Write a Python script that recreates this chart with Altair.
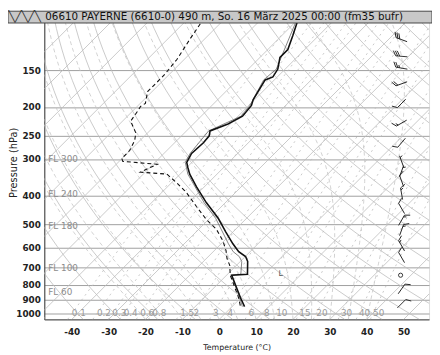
import math
import numpy as np
import pandas as pd
import altair as alt

# ---------------- values ----------------
temp_p = [100.0, 114.7, 127.7, 135.8, 148.8, 158.2, 161.9, 188.7, 197.5, 214.8, 228.4, 241.0,
          250.4, 264.2, 287.3, 307.9, 319.8, 337.5, 372.7, 421.2, 476.1, 529.9, 580.9, 617.5,
          641.6, 666.7, 736.3, 742.0, 884.8, 947.9]
temp_t = [-60.2, -57.0, -54.6, -54.6, -52.0, -51.2, -52.5, -50.4, -49.3, -48.8, -50.6, -53.6,
          -52.5, -52.2, -52.5, -51.4, -49.8, -47.4, -42.1, -35.2, -27.7, -21.9, -16.8, -13.1,
          -9.9, -8.0, -4.6, -8.6, -0.1, 3.4]

dew_p = [100.0, 118.3, 137.8, 155.8, 177.4, 194.5, 199.0, 206.8, 223.2, 231.9, 244.7, 260.1,
         280.8, 298.6, 305.5, 312.5, 332.3, 337.4, 361.4, 390.2, 434.3, 479.8, 517.9, 567.7,
         612.8, 651.5, 687.3, 742.0, 884.8, 947.9]
dew_t = [-85.8, -83.9, -82.0, -81.2, -81.2, -78.6, -79.1, -78.6, -77.8, -75.9, -73.2, -71.4,
         -70.1, -70.1, -69.0, -58.9, -61.3, -53.6, -48.5, -43.2, -36.8, -30.7, -25.3, -20.3,
         -16.8, -14.4, -11.8, -9.0, -0.6, 2.3]

wet_p = [100.0, 148.8, 161.9, 197.5, 214.8, 241.0, 287.3, 307.9, 337.5, 421.2, 476.1, 529.9,
         580.9, 617.5, 641.6, 666.7, 736.3, 742.0, 884.8, 947.9]
wet_t = [-60.5, -52.4, -52.9, -49.7, -49.2, -54.0, -52.9, -51.8, -47.9, -35.8, -28.4, -22.8,
         -18.0, -14.6, -11.6, -9.6, -6.4, -8.7, -0.3, 2.8]

barb_p = [118.3, 134.7, 147.7, 166.9, 194.5, 226.7, 264.2, 305.5, 329.8, 356.0, 393.2, 441.0,
          483.4, 521.9, 589.8, 646.6, 825.9, 926.3]
barb_dir = [290, 275, 280, 250, 225, 240, 220, 340, 20, 340, 350, 330, 30, 20, 330, 330, 35, 45]
barb_kt = [30, 30, 25, 20, 10, 15, 10, 5, 5, 10, 15, 10, 15, 15, 15, 10, 10, 10]
calm_p = [742.0]

marker_p = [736.0]
marker_t = [4.4]

pressure_ticks = [100, 150, 200, 250, 300, 400, 500, 600, 700, 800, 900, 1000]
temp_ticks = [-40, -30, -20, -10, 0, 10, 20, 30, 40, 50]
fl_names = ["FL 300", "FL 240", "FL 180", "FL 100", "FL 60"]
fl_p = [300, 395, 506, 700, 845]
mix_ratios = [0.1, 0.2, 0.3, 0.4, 0.6, 0.8, 1.5, 2, 3, 4, 6, 8, 10, 15, 20, 30, 40, 50]
isotherms = list(range(-130, 60, 10))
dry_theta_c = list(range(-50, 220, 10))
moist_start = list(range(-20, 45, 5))
title_text = "06610 PAYERNE (6610-0) 490 m, So. 16 März 2025 00:00 (fm35  bufr)"

# ---------------- diagram geometry ----------------
P_BOT, P_TOP = 1047.0, 100.0
SKEW = 34.79
X_DOM = [-47.45, 56.9]
W, H = 392, 307
FONT = "DejaVu Sans"


def es(tc):
    return 6.112 * np.exp(17.67 * tc / (tc + 243.5))


def t_from_w(w, p):
    e = w * p / (622.0 + w)
    l = np.log(e / 6.112)
    return 243.5 * l / (17.67 - l)


def moist(t0):
    Rd, Cp, Lv, eps = 287.04, 1005.7, 2.501e6, 0.622
    lnp = np.linspace(math.log(P_BOT), math.log(P_TOP), 60)

    def f(T, p):
        e = es(T - 273.15)
        rs = eps * e / (p - e)
        return (Rd * T + Lv * rs) / (Cp + Lv * Lv * rs * eps / (Rd * T * T))

    T = t0 + 273.15
    out = [T]
    for i in range(1, len(lnp)):
        h = lnp[i] - lnp[i - 1]
        p0, p1 = math.exp(lnp[i - 1]), math.exp(lnp[i])
        k1 = f(T, p0)
        k2 = f(T + h * k1, p1)
        T = T + h * (k1 + k2) / 2
        out.append(T)
    return np.exp(lnp), np.array(out) - 273.15


def frame(groups):
    rows = []
    for g, ps, ts in groups:
        for i, (p, t) in enumerate(zip(ps, ts)):
            rows.append({"g": g, "i": i, "p": float(p), "t": float(t)})
    return pd.DataFrame(rows)


iso_df = frame([(k, [P_BOT, P_TOP], [k, k]) for k in isotherms])
pp = np.geomspace(P_BOT, P_TOP, 30)
dry_df = frame([(k, pp, (k + 273.15) * (pp / 1000.0) ** 0.2857 - 273.15) for k in dry_theta_c])
moist_df = frame([(k,) + moist(k) for k in moist_start])
pm = np.geomspace(P_BOT, P_TOP, 25)
mix_df = frame([(w, pm, t_from_w(w, pm)) for w in mix_ratios])

temp_df = frame([(0, temp_p, temp_t)])
dew_df = frame([(0, dew_p, dew_t)])
wet_df = frame([(0, wet_p, wet_t)])

mixlab_df = pd.DataFrame({"p": 1000.0, "t": [float(t_from_w(w, 1000.0)) for w in mix_ratios],
                          "lab": [f"{w:g}" for w in mix_ratios]})
fl_df = pd.DataFrame({"p": fl_p, "lab": fl_names})
barb_df = pd.DataFrame({"p": barb_p, "dir": barb_dir, "kt": barb_kt})
calm_df = pd.DataFrame({"p": calm_p})
marker_df = pd.DataFrame({"p": marker_p, "t": marker_t, "lab": ["L"]})


def barb_path(kt):
    parts = ["M0,0.5L0,-0.5"]
    full, half = kt // 10, (kt % 10) >= 5
    for j in range(full):
        y = -0.5 + j * 0.17
        parts.append(f"M0,{y:.2f}L0.42,{y - 0.24:.2f}")
    if half:
        y = -0.5 + max(full, 1) * 0.17
        parts.append(f"M0,{y:.2f}L0.21,{y - 0.12:.2f}")
    return "".join(parts)


speed_classes = sorted(set(barb_kt))
barb_shapes = [barb_path(k) for k in speed_classes]

# ---------------- scales / axes ----------------
xs = alt.Scale(domain=X_DOM, nice=False, zero=False)
ys = alt.Scale(type="log", domain=[P_BOT, P_TOP], nice=False)
x_axis = alt.Axis(values=temp_ticks, labelExpr="'' + datum.value", title="Temperature (°C)",
                  ticks=False, grid=False, labelFontWeight="bold", labelFontSize=9,
                  labelColor="#222", labelPadding=8, titleFontSize=8, titleFontWeight="normal",
                  titleColor="#222", titlePadding=8, domainColor="#333", labelFont=FONT,
                  titleFont=FONT)
y_axis = alt.Axis(values=pressure_ticks, format="d", title="Pressure (hPa)", ticks=False,
                  grid=True, gridColor="#9e9e9e", gridWidth=1, labelFontWeight="bold",
                  labelFontSize=9, labelColor="#222", labelPadding=4, titleFontSize=10,
                  titleFontWeight="normal", titleColor="#222", domainColor="#333",
                  titleX=-31, titleY=147, titleAlign="center", titleBaseline="middle",
                  labelFont=FONT, titleFont=FONT)
calc = f"datum.t + {SKEW}*log({P_BOT}/datum.p)"


def X():
    return alt.X("X:Q", scale=xs, axis=x_axis)


def Y():
    return alt.Y("p:Q", scale=ys, axis=y_axis)


def lines(df, **mk):
    return (alt.Chart(df).transform_calculate(X=calc)
            .mark_line(clip=True, **mk)
            .encode(x=X(), y=Y(), detail="g:N", order="i:Q"))


layers = [
    lines(iso_df, color="#bdbdbd", strokeWidth=0.8),
    lines(dry_df, color="#bdbdbd", strokeWidth=0.8),
    lines(moist_df, color="#c6c6c6", strokeWidth=0.8, strokeDash=[4, 3]),
    lines(mix_df, color="#bcbcbc", strokeWidth=0.8, strokeDash=[2, 4]),
    alt.Chart(mixlab_df).transform_calculate(X=calc)
    .mark_text(align="left", baseline="middle", fontSize=9, font=FONT, color="#9a9a9a")
    .encode(x=X(), y=Y(), text="lab:N"),
    alt.Chart(fl_df).mark_text(align="left", baseline="middle", fontSize=9, font=FONT,
                               color="#8c8c8c")
    .encode(x=alt.value(4), y=Y(), text="lab:N"),
    lines(wet_df, color="#666666", strokeWidth=0.8),
    lines(dew_df, color="#111111", strokeWidth=1.1, strokeDash=[4, 3]),
    lines(temp_df, color="#111111", strokeWidth=1.6),
    alt.Chart(marker_df).transform_calculate(X=calc)
    .mark_text(fontSize=8, font=FONT, color="#555555")
    .encode(x=X(), y=Y(), text="lab:N"),
    alt.Chart(barb_df).mark_point(filled=False, strokeWidth=0.9, color="#222222", opacity=1,
                                  size=576)
    .encode(x=alt.value(364), y=Y(),
            shape=alt.Shape("kt:N", scale=alt.Scale(domain=speed_classes, range=barb_shapes),
                            legend=None),
            angle=alt.Angle("dir:Q", scale=None)),
    alt.Chart(calm_df).mark_point(shape="circle", filled=False, size=18, strokeWidth=0.9,
                                  color="#222222", opacity=1)
    .encode(x=alt.value(363), y=Y()),
    alt.Chart(pd.DataFrame({"a": [0]})).mark_rect(fill="#c8c8c8", stroke="#444444",
                                                  strokeWidth=1)
    .encode(x=alt.value(-37), x2=alt.value(395), y=alt.value(-7), y2=alt.value(5)),
    alt.Chart(pd.DataFrame({"txt": [title_text]}))
    .mark_text(align="left", baseline="middle", fontSize=10.5, font=FONT, color="#111111")
    .encode(x=alt.value(1), y=alt.value(-1), text="txt:N"),
    alt.Chart(pd.DataFrame({"txt": ["╲╱╲╱╲"]}))
    .mark_text(align="center", baseline="middle", fontSize=11, font=FONT, color="#333333")
    .encode(x=alt.value(-20), y=alt.value(-1), text="txt:N"),
]

chart = (alt.layer(*layers)
         .properties(width=W, height=H, autosize=alt.AutoSizeParams(type="none"),
                     padding={"left": 37, "top": 7, "right": 3, "bottom": 33})
         .configure_view(stroke="#a0a0a0", strokeWidth=1)
         .configure(background="white"))

chart.save("out.html", embed_options={"renderer": "svg", "actions": False})
